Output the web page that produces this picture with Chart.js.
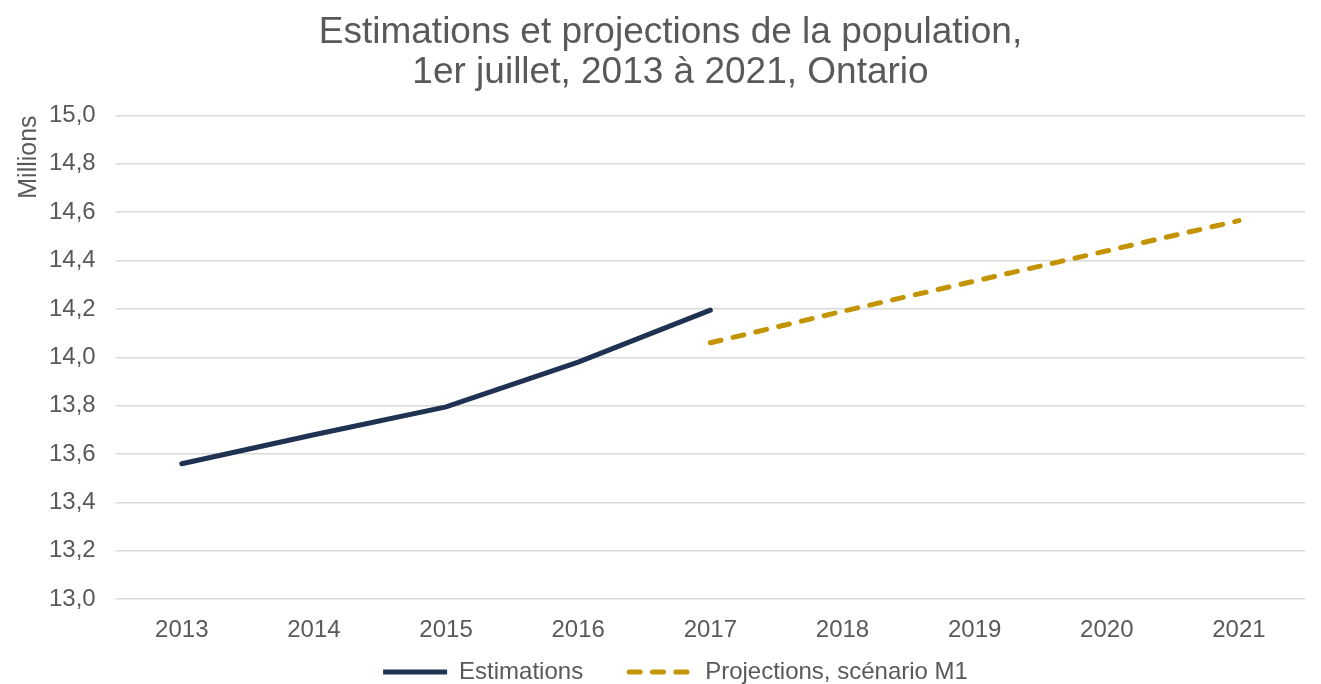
<!DOCTYPE html>
<html>
<head>
<meta charset="utf-8">
<script src="https://cdn.jsdelivr.net/npm/chart.js@4/dist/chart.umd.min.js"></script>
<style>
  html, body { margin: 0; padding: 0; background: #fff; }
  #wrap { width: 1321px; height: 684px; }
</style>
</head>
<body>
<div id="wrap"><canvas id="myGraph"></canvas></div>
<script>
(() => {

//----- Data -----//

    var years = ['2013', '2014', '2015', '2016', '2017', '2018', '2019', '2020', '2021']
    var estimations = [13.56, 13.68, 13.795, 13.98, 14.195, null, null, null, null]
    var projections = [null, null, null, null, 14.06, 14.19, 14.315, 14.44, 14.565]
    var titleLines = ['Estimations et projections de la population,', '1er juillet, 2013 à 2021, Ontario']

//----- Styles -----//

    var grey = '#595959'
    var fontFamily = '"Liberation Sans", Arial, sans-serif'
    // dash chosen so the legend's flat box (drawn out and back) keeps its gaps
    var dash = [11, 12.4]

//----- Legend: wide gap between items, but keep the box short -----//

    const legendSpacing = {
      id: 'legendSpacing',
      afterInit (chart) {
        var legend = chart.legend
        var fit = legend.fit
        legend.fit = function () {
          fit.call(this)
          this.height = 30
        }
      },
      afterLayout (chart) {
        chart.legend.top -= 40
        chart.legend.left += 16
        chart.legend.right += 16
        chart.titleBlock.left += 11
        chart.titleBlock.right += 11
      }
    }

//----- construct chart -----//

    const data = {
      labels: years,
      datasets: [
        {
          label: 'Estimations',
          data: estimations,
          borderColor: '#1f3251',
          backgroundColor: '#1f3251',
          borderWidth: 5,
          borderCapStyle: 'round',
          pointRadius: 0,
          tension: 0
        },
        {
          label: 'Projections, scénario M1',
          data: projections,
          borderColor: '#c39300',
          backgroundColor: '#c39300',
          borderWidth: 5,
          borderDash: dash,
          borderCapStyle: 'round',
          pointRadius: 0,
          tension: 0
        }
      ]
    }

    const myChart = new Chart(
      document.getElementById('myGraph'), {
        type: 'line',
        data: data,
        plugins: [legendSpacing],
        options: {
          responsive: true,
          maintainAspectRatio: false,
          animation: false,
          layout: { padding: { left: 14, right: 16, top: 0, bottom: 0 } },
          plugins: {
            title: {
              display: true,
              text: titleLines,
              color: grey,
              font: { family: fontFamily, size: 37, weight: 'normal', lineHeight: 1.1 },
              padding: { top: 12, bottom: 22 }
            },
            legend: {
              position: 'bottom',
              labels: {
                color: grey,
                font: { family: fontFamily, size: 24 },
                boxWidth: 64,
                boxHeight: 0,
                padding: 46
              }
            },
            tooltip: { enabled: false }
          },
          scales: {
            x: {
              offset: true,
              grid: { display: false },
              border: { display: false },
              ticks: {
                color: grey,
                font: { family: fontFamily, size: 24 },
                padding: 9
              }
            },
            y: {
              min: 13,
              max: 15,
              grid: { color: '#d9d9d9', lineWidth: 1.5, drawTicks: false },
              border: { display: false },
              title: {
                display: true,
                text: 'Millions',
                align: 'end',
                color: grey,
                font: { family: fontFamily, size: 25 },
                padding: { top: 0, bottom: -15 }
              },
              ticks: {
                stepSize: 0.2,
                color: grey,
                font: { family: fontFamily, size: 24 },
                padding: 20,
                callback: function (v) { return v.toFixed(1).replace('.', ',') }
              }
            }
          }
        }
      }
    )

})();
</script>
</body>
</html>
